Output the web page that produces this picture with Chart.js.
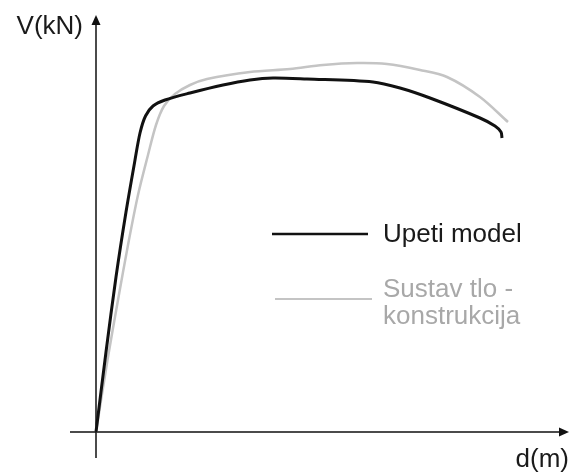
<!DOCTYPE html>
<html>
<head>
<meta charset="utf-8">
<script src="https://cdn.jsdelivr.net/npm/chart.js@4"></script>
<style>
  html, body { margin: 0; padding: 0; background: #fff; }
  #wrap { width: 571px; height: 476px; }
</style>
</head>
<body>
<div id="wrap"><canvas id="myChart" width="571" height="476"></canvas></div>
<script>
// pomak d (schematic units) and sila V for both curves
var dUpeti = [0, 2, 4, 6, 7.8, 8.8, 9.9, 11.4, 13.8, 18.8, 25.4, 30.8, 35.4, 42.2, 55.4, 60.8, 66.8, 76.8, 79.8, 81, 81.2];
var vUpeti = [0, 16, 31, 44, 54.4, 59.8, 63.2, 65.2, 66.4, 67.8, 69.4, 70.4, 70.8, 70.6, 70, 68.8, 66.8, 62.8, 61.2, 60, 58.8];
var dSustav = [0, 2.3, 4.4, 6.4, 8.4, 10.4, 12, 13.6, 15.8, 18.8, 22.2, 30.8, 38.8, 45.4, 52.2, 58.2, 64.8, 70.2, 76.8, 82.4];
var vSustav = [0, 14.4, 26.4, 37.4, 47.4, 55.4, 61.4, 65.2, 67.6, 69.4, 70.6, 72, 72.6, 73.4, 73.8, 73.6, 72.4, 71, 67, 62];
var labels = ['Upeti model', 'Sustav tlo -\nkonstrukcija'];
var axisLabels = ['d(m)', 'V(kN)'];

function toPoints(xs, ys) {
  return xs.map(function (x, i) { return { x: x, y: ys[i] }; });
}

var fontName = '"Liberation Sans", Arial, sans-serif';

var axesPlugin = {
  id: 'osi',
  beforeDatasetsDraw: function (chart) {
    var c = chart.ctx;
    var a = chart.chartArea;
    var x0 = chart.scales.x.getPixelForValue(0);
    var y0 = chart.scales.y.getPixelForValue(0);
    c.save();
    c.strokeStyle = '#111';
    c.fillStyle = '#111';
    c.lineWidth = 1.5;
    c.beginPath();
    c.moveTo(a.left, y0);
    c.lineTo(a.right - 6, y0);
    c.moveTo(x0, a.bottom);
    c.lineTo(x0, a.top + 6);
    c.stroke();
    // arrows
    c.beginPath();
    c.moveTo(a.right, y0);
    c.lineTo(a.right - 10, y0 - 4.5);
    c.lineTo(a.right - 10, y0 + 4.5);
    c.closePath();
    c.fill();
    c.beginPath();
    c.moveTo(x0, a.top);
    c.lineTo(x0 - 4.5, a.top + 10);
    c.lineTo(x0 + 4.5, a.top + 10);
    c.closePath();
    c.fill();
    // axis titles
    c.font = '26px ' + fontName;
    c.textBaseline = 'alphabetic';
    c.textAlign = 'right';
    c.fillStyle = '#1a1a1a';
    c.fillText(axisLabels[0], 569, 467);
    c.fillText(axisLabels[1], 83, 34);
    c.restore();
  },
  afterDatasetsDraw: function (chart) {
    var c = chart.ctx;
    c.save();
    c.font = '26px ' + fontName;
    c.textAlign = 'left';
    c.textBaseline = 'alphabetic';
    var items = [
      { color: '#111', text: '#1a1a1a', width: 2.5, x1: 272, x2: 368, ly: 234, ty: 242 },
      { color: '#c4c4c4', text: '#a8a8a8', width: 2, x1: 275, x2: 372, ly: 299, ty: 297 }
    ];
    items.forEach(function (it, i) {
      c.strokeStyle = it.color;
      c.lineWidth = it.width;
      c.beginPath();
      c.moveTo(it.x1, it.ly);
      c.lineTo(it.x2, it.ly);
      c.stroke();
      c.fillStyle = it.text;
      labels[i].split('\n').forEach(function (line, j) {
        c.fillText(line, 383, it.ty + j * 27);
      });
    });
    c.restore();
  }
};

new Chart(document.getElementById('myChart'), {
  type: 'scatter',
  data: {
    datasets: [
      {
        label: labels[0],
        data: toPoints(dUpeti, vUpeti),
        showLine: true,
        borderColor: '#111',
        borderWidth: 3,
        pointRadius: 0,
        tension: 0.3,
        order: 0
      },
      {
        label: labels[1],
        data: toPoints(dSustav, vSustav),
        showLine: true,
        borderColor: '#c4c4c4',
        borderWidth: 2.5,
        pointRadius: 0,
        tension: 0.3,
        order: 1
      }
    ]
  },
  options: {
    responsive: false,
    animation: false,
    layout: { padding: { left: 70, right: 2, top: 15, bottom: 18 } },
    plugins: { legend: { display: false }, tooltip: { enabled: false } },
    scales: {
      x: { type: 'linear', min: -5.2, max: 94.6, display: false },
      y: { type: 'linear', min: -5.2, max: 83.4, display: false }
    }
  },
  plugins: [axesPlugin]
});
</script>
</body>
</html>
